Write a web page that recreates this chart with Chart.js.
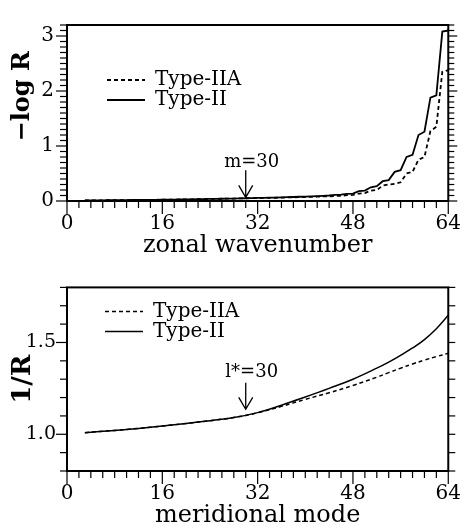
<!DOCTYPE html>
<html>
<head>
<meta charset="utf-8">
<script src="https://cdn.jsdelivr.net/npm/chart.js@4.4.1/dist/chart.umd.min.js"></script>
<style>
  html, body { margin: 0; padding: 0; background: #fff; overflow: hidden; width: 472px; height: 529px; }
  .panel { position: absolute; left: 0; width: 472px; }
  #topPanel { top: 0; height: 265px; }
  #bottomPanel { top: 265px; height: 270px; }
</style>
</head>
<body>
<div class="panel" id="topPanel"><canvas id="chartTop"></canvas></div>
<div class="panel" id="bottomPanel"><canvas id="chartBottom"></canvas></div>
<script>
// upper panel: -log R vs zonal wavenumber
const zonalModes = [3, 4, 5, 6, 7, 8, 9, 10, 11, 12, 13, 14, 15, 16, 17, 18, 19, 20, 21, 22,
  23, 24, 25, 26, 27, 28, 29, 30, 31, 32, 33, 34, 35, 36, 37, 38, 39, 40, 41, 42, 43, 44,
  45, 46, 47, 48, 49, 50, 51, 52, 53, 54, 55, 56, 57, 58, 59, 60, 61, 62, 63, 64];
const logRTypeII = [0.012, 0.012, 0.013, 0.013, 0.014, 0.015, 0.016, 0.017, 0.018, 0.019,
  0.020, 0.021, 0.022, 0.023, 0.025, 0.026, 0.028, 0.029, 0.031, 0.033, 0.035, 0.037,
  0.039, 0.041, 0.043, 0.045, 0.048, 0.050, 0.053, 0.055, 0.058, 0.060, 0.063, 0.066,
  0.070, 0.073, 0.077, 0.080, 0.085, 0.089, 0.095, 0.100, 0.110, 0.115, 0.130, 0.135,
  0.180, 0.190, 0.250, 0.270, 0.360, 0.380, 0.530, 0.560, 0.800, 0.840, 1.200, 1.260,
  1.880, 1.920, 3.080, 3.100];
const logRTypeIIA = [0.012, 0.012, 0.013, 0.013, 0.014, 0.015, 0.016, 0.017, 0.018, 0.019,
  0.020, 0.021, 0.022, 0.023, 0.025, 0.026, 0.028, 0.029, 0.031, 0.033, 0.035, 0.037,
  0.039, 0.041, 0.043, 0.045, 0.048, 0.050, 0.051, 0.053, 0.055, 0.057, 0.059, 0.061,
  0.064, 0.066, 0.069, 0.071, 0.075, 0.078, 0.083, 0.086, 0.092, 0.096, 0.105, 0.110,
  0.135, 0.145, 0.190, 0.200, 0.280, 0.300, 0.310, 0.340, 0.500, 0.530, 0.750, 0.800,
  1.270, 1.350, 2.350, 2.380];

// lower panel: 1/R vs meridional mode
const meridModes = [3, 8, 12, 16, 20, 24, 28, 32, 36, 40, 44, 48, 52, 54, 56, 58, 60, 62, 64];
const invRTypeII = [1.009, 1.021, 1.032, 1.045, 1.059, 1.074, 1.091, 1.118, 1.158, 1.203,
  1.250, 1.300, 1.360, 1.393, 1.430, 1.470, 1.516, 1.575, 1.648];
const invRTypeIIA = [1.009, 1.021, 1.032, 1.045, 1.059, 1.074, 1.091, 1.117, 1.152, 1.190,
  1.226, 1.266, 1.311, 1.336, 1.360, 1.383, 1.404, 1.423, 1.441];

// tick labels
const modeTicks = [0, 16, 32, 48, 64];
const logRTicks = [0, 1, 2, 3];
const invRTicks = [1.0, 1.5];

const FONT = "'DejaVu Serif', serif";
Chart.defaults.font.family = FONT;
Chart.defaults.color = '#000';

const pts = (xs, ys) => xs.map((x, i) => ({ x: x, y: ys[i] }));

// frame, tick marks and the arrow marker
const frameTicks = {
  id: 'frameTicks',
  afterDatasetsDraw(chart, args, o) {
    const { ctx, chartArea: a, scales: { x, y } } = chart;
    ctx.save();
    ctx.strokeStyle = '#000';
    ctx.lineWidth = 1.2;
    const seg = (x0, y0, x1, y1) => { ctx.beginPath(); ctx.moveTo(x0, y0); ctx.lineTo(x1, y1); ctx.stroke(); };
    for (let v = x.min; v <= x.max + 1e-9; v += o.xMinor) {
      const px = x.getPixelForValue(v);
      const major = Math.abs(v % o.xMajor) < 1e-9;
      seg(px, a.bottom, px, a.bottom + (major ? o.xMajorLen : o.xMinorLen));
    }
    const n = Math.round((y.max - y.min) / o.yMinor);
    for (let i = 0; i <= n; i++) {
      const v = y.min + i * o.yMinor;
      const py = y.getPixelForValue(v);
      const major = Math.abs(v / o.yMajor - Math.round(v / o.yMajor)) < 1e-6;
      seg(a.left - (major ? o.yMajorLen : o.yMinorLen), py, a.left, py);
      seg(a.right, py, a.right + (major ? o.rMajorLen : o.rMinorLen), py);
    }
    ctx.lineWidth = 2;
    ctx.strokeRect(a.left, a.top, a.right - a.left, a.bottom - a.top);

    const m = o.marker;
    const ax = x.getPixelForValue(m.x);
    const yTop = y.getPixelForValue(m.from), yTip = y.getPixelForValue(m.to);
    ctx.lineWidth = 1.3;
    ctx.beginPath();
    ctx.moveTo(ax, yTop); ctx.lineTo(ax, yTip);
    ctx.moveTo(ax - 7, yTip - 12); ctx.lineTo(ax, yTip); ctx.lineTo(ax + 7, yTip - 12);
    ctx.stroke();
    ctx.fillStyle = '#000';
    ctx.font = '18px ' + FONT;
    ctx.textAlign = 'center';
    ctx.textBaseline = 'alphabetic';
    ctx.fillText(m.text, ax + 6, y.getPixelForValue(m.textY));
    ctx.restore();
  }
};

// put the legend inside the plot, upper left
const legendSpot = {
  id: 'legendSpot',
  afterLayout(chart, args, o) {
    const lg = chart.legend, a = chart.chartArea;
    lg.left = a.left + o.dx; lg.top = a.top + o.dy;
    lg.right = lg.left + lg.width; lg.bottom = lg.top + lg.height;
  }
};

// legend samples take the dataset's dash and width
const lineLabels = chart =>
  Chart.defaults.plugins.legend.labels.generateLabels(chart).map(item => {
    const ds = chart.data.datasets[item.datasetIndex];
    item.lineDash = ds.borderDash || [];
    item.lineWidth = ds.borderWidth;
    return item;
  });

function makeChart(id, cfg) {
  return new Chart(document.getElementById(id), {
    type: 'line',
    data: {
      datasets: [
        { label: 'Type-IIA', data: cfg.dashed, borderColor: '#000', borderWidth: cfg.lw,
          borderDash: [4, 3], pointRadius: 0, tension: cfg.tension },
        { label: 'Type-II', data: cfg.solid, borderColor: '#000', borderWidth: cfg.lw,
          borderDash: [], pointRadius: 0, tension: cfg.tension }
      ]
    },
    options: {
      responsive: true,
      maintainAspectRatio: false,
      animation: false,
      layout: { padding: { top: cfg.padTop, right: 14, left: 0, bottom: 0 } },
      scales: {
        x: {
          type: 'linear', min: 0, max: 64,
          grid: { display: false, drawTicks: false },
          border: { display: false },
          afterBuildTicks: s => { s.ticks = modeTicks.map(v => ({ value: v })); },
          afterFit: s => { s.height = 64; },
          ticks: { font: { size: 20 }, padding: 11, maxRotation: 0, autoSkip: false },
          title: { display: true, text: cfg.xTitle, font: { size: 24 }, padding: { top: 0, bottom: 5 } }
        },
        y: {
          min: cfg.yMin, max: cfg.yMax,
          grid: { display: false, drawTicks: false },
          border: { display: false },
          afterBuildTicks: s => { s.ticks = cfg.yTicks.map(v => ({ value: v })); },
          afterFit: s => { s.width = 67; },
          ticks: { font: { size: cfg.yTickSize }, padding: cfg.yTickPad, callback: cfg.yFmt },
          title: { display: true, text: cfg.yTitle, font: { size: cfg.yTitleSize, weight: 'bold' },
                   padding: { top: cfg.yTitlePad, bottom: 0 } }
        }
      },
      plugins: {
        tooltip: { enabled: false },
        legend: {
          position: 'chartArea', align: 'start',
          labels: { usePointStyle: true, pointStyle: 'line', pointStyleWidth: 38,
                    font: { size: 20 }, color: '#000', padding: 0, generateLabels: lineLabels }
        },
        legendSpot: cfg.legend,
        frameTicks: cfg.ticks
      }
    },
    plugins: [frameTicks, legendSpot]
  });
}

makeChart('chartTop', {
  dashed: pts(zonalModes, logRTypeIIA),
  solid: pts(zonalModes, logRTypeII),
  lw: 1.8, tension: 0, padTop: 6,
  xTitle: 'zonal wavenumber',
  yMin: 0, yMax: 3.2, yTicks: logRTicks, yTickSize: 20, yTickPad: 13,
  yFmt: v => String(v),
  yTitle: '\u00a0\u00a0\u00a0\u00a0\u2212log R', yTitleSize: 24, yTitlePad: 8.5,
  legend: { dx: 40, dy: 45 },
  ticks: { xMinor: 2, xMajor: 16, xMinorLen: 7, xMajorLen: 13,
           yMinor: 0.1, yMajor: 1, yMinorLen: 7, yMajorLen: 11, rMinorLen: 6, rMajorLen: 9,
           marker: { x: 30, from: 0.56, to: 0.065, textY: 0.62, text: 'm=30' } }
});

makeChart('chartBottom', {
  dashed: pts(meridModes, invRTypeIIA),
  solid: pts(meridModes, invRTypeII),
  lw: 1.5, tension: 0.4, padTop: 9,
  xTitle: 'meridional mode',
  yMin: 0.8, yMax: 1.8, yTicks: invRTicks, yTickSize: 19, yTickPad: 11,
  yFmt: v => v.toFixed(1),
  yTitle: '1/R', yTitleSize: 26, yTitlePad: 7.4,
  legend: { dx: 38, dy: 14 },
  ticks: { xMinor: 2, xMajor: 16, xMinorLen: 7, xMajorLen: 13,
           yMinor: 0.1, yMajor: 0.5, yMinorLen: 7, yMajorLen: 11, rMinorLen: 7, rMajorLen: 7,
           marker: { x: 30, from: 1.28, to: 1.136, textY: 1.314, text: 'l*=30' } }
});
</script>
</body>
</html>
